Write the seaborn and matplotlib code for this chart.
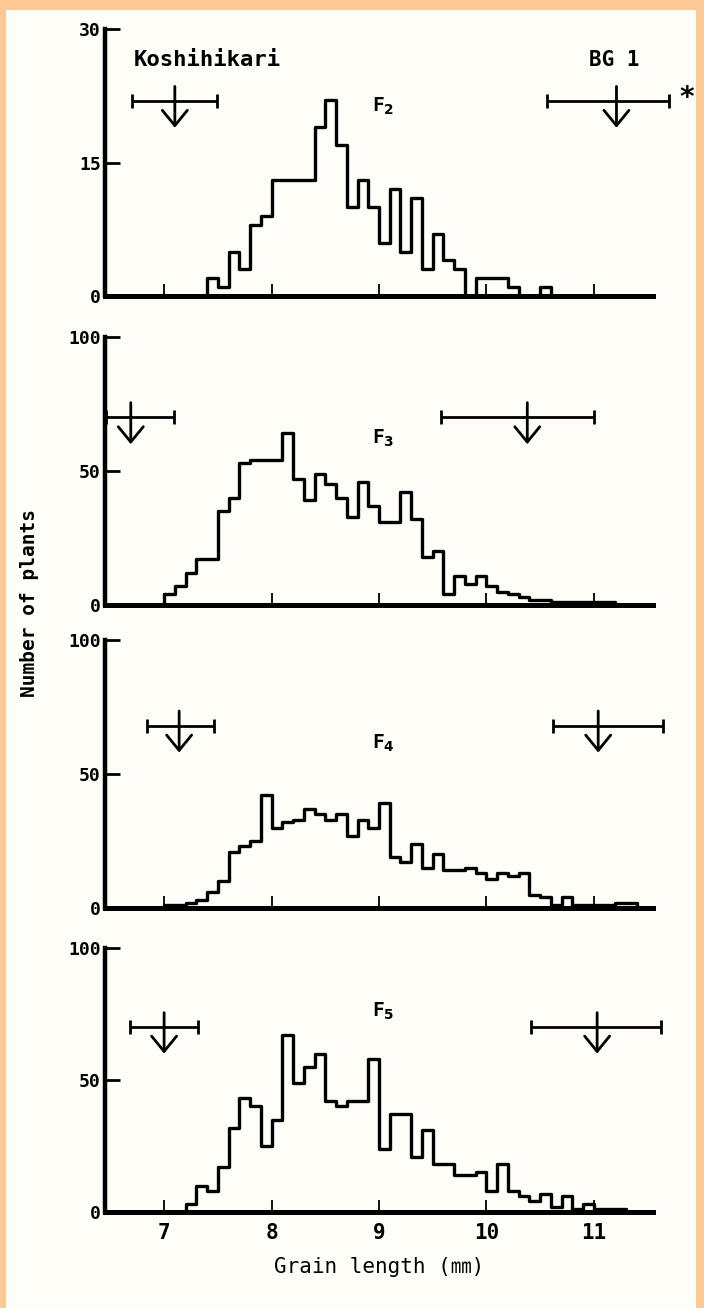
import numpy as np
import pandas as pd
import matplotlib
matplotlib.use("Agg")
import matplotlib.pyplot as plt
from matplotlib.patches import Rectangle
import seaborn as sns

# grain length classes are 0.1 mm wide
BIN = 0.1

# number of plants per class, first class starts at *_start (mm)
f2_start = 7.4
f2_counts = [2, 1, 5, 3, 8, 9, 13, 13, 13, 13, 19, 22, 17, 10, 13, 10,
             6, 12, 5, 11, 3, 7, 4, 3, 0, 2, 2, 2, 1, 0, 0, 1]
f3_start = 7.0
f3_counts = [4, 7, 12, 17, 17, 35, 40, 53, 54, 54, 54, 64, 47, 39, 49, 45,
             40, 33, 46, 37, 31, 31, 42, 32, 18, 20, 4, 11, 8, 11, 7, 5,
             4, 3, 2, 2, 1, 1, 1, 1, 1, 1]
f4_start = 7.0
f4_counts = [1, 1, 2, 3, 6, 10, 21, 23, 25, 42, 30, 32, 33, 37, 35, 33,
             35, 27, 33, 30, 39, 19, 17, 24, 15, 20, 14, 14, 15, 13, 11, 13,
             12, 13, 5, 4, 1, 4, 1, 1, 1, 1, 2, 2]
f5_start = 7.2
f5_counts = [3, 10, 8, 17, 32, 43, 40, 25, 35, 67, 49, 55, 60, 42, 40, 42,
             42, 58, 24, 37, 37, 21, 31, 18, 18, 14, 14, 15, 8, 18, 8, 6,
             4, 7, 2, 6, 1, 3, 1, 1, 1]

generations = ["2", "3", "4", "5"]
starts = [f2_start, f3_start, f4_start, f5_start]
counts = [f2_counts, f3_counts, f4_counts, f5_counts]

# parents: mean and range (mm), Koshihikari left, BG 1 right
kosh_mean = [7.10, 6.69, 7.14, 7.00]
kosh_lo = [6.70, 6.46, 6.84, 6.68]
kosh_hi = [7.49, 7.09, 7.46, 7.32]
bg1_mean = [11.21, 10.38, 11.04, 11.03]
bg1_lo = [10.56, 9.58, 10.62, 10.41]
bg1_hi = [11.70, 11.00, 11.64, 11.62]

y_max = [30, 100, 100, 100]
y_ticks = [[0, 15, 30], [0, 50, 100], [0, 50, 100], [0, 50, 100]]
x_ticks = [7, 8, 9, 10, 11]

# long table, one row per class, padded with an empty class on each side
rows = []
for g, s, c in zip(generations, starts, counts):
    c = [0] + list(c) + [0]
    for i, n in enumerate(c):
        rows.append({"gen": g, "length": round(s - BIN + i * BIN + BIN / 2, 3), "n": n})
df = pd.DataFrame(rows)

sns.set_style("ticks")
plt.rcParams["font.family"] = ["DejaVu Sans Mono", "Noto Sans CJK JP"]
plt.rcParams["font.weight"] = "bold"
plt.rcParams["mathtext.fontset"] = "dejavusans"
for key in ["text.color", "axes.labelcolor", "xtick.color", "ytick.color", "axes.edgecolor"]:
    plt.rcParams[key] = "black"

W, H = 704, 1308
fig = plt.figure(figsize=(W / 100, H / 100), dpi=100)
fig.patch.set_facecolor("#fcc893")
fig.add_artist(Rectangle((6 / W, 0), (W - 14) / W, (H - 10) / H,
                         transform=fig.transFigure, facecolor="#fefdf8",
                         edgecolor="none", zorder=0))

# panel boxes in pixels: top, baseline
boxes = [(29, 296), (337, 605), (640, 908), (948, 1212)]
left_px, right_px = 105, 653
bar_y = [0.73, 0.70, 0.68, 0.70]
label_y = [0.71, 0.62, 0.615, 0.76]

axes = []
for k, g in enumerate(generations):
    top, base = boxes[k]
    ax = fig.add_axes([left_px / W, 1 - base / H, (right_px - left_px) / W, (base - top) / H])
    ax.set_facecolor("none")
    sub = df[df["gen"] == g]
    edges = [round(starts[k] - BIN + i * BIN, 3) for i in range(len(sub) + 1)]
    sns.histplot(data=sub, x="length", weights="n", bins=edges, element="step",
                 fill=False, color="black", linewidth=2.4, ax=ax)
    ax.set_xlim(6.45, 11.55)
    ax.set_ylim(0, y_max[k])
    ax.set_xlabel("")
    ax.set_ylabel("")
    sns.despine(ax=ax)
    ax.spines["left"].set_linewidth(3.2)
    ax.spines["bottom"].set_linewidth(3.6)
    ax.set_xticks(x_ticks)
    ax.set_yticks(y_ticks[k])
    ax.tick_params(axis="y", direction="in", length=11, width=2, pad=3, labelsize=13)
    ax.tick_params(axis="x", direction="in", length=9, width=1.3, pad=8, labelsize=15)
    if k < 3:
        ax.tick_params(axis="x", labelbottom=False)

    # parent means with ranges
    for m, lo, hi in [(kosh_mean[k], kosh_lo[k], kosh_hi[k]), (bg1_mean[k], bg1_lo[k], bg1_hi[k])]:
        yb = bar_y[k] * y_max[k]
        ax.errorbar([m], [yb], xerr=[[m - lo], [hi - m]], fmt="none", ecolor="black",
                    elinewidth=2, capsize=5, capthick=2, clip_on=False)
        ax.annotate("", xy=(m, bar_y[k] - 0.10), xytext=(m, bar_y[k] + 0.055),
                    xycoords=("data", "axes fraction"), textcoords=("data", "axes fraction"),
                    arrowprops=dict(arrowstyle="->, head_length=0.55, head_width=0.45",
                                    lw=2, color="black", mutation_scale=20,
                                    shrinkA=0, shrinkB=0))

    ax.text(9.04, label_y[k], "F$_{%s}$" % g, transform=ax.get_xaxis_transform(),
            ha="center", va="center", fontsize=14)
    axes.append(ax)

axes[0].text(7.40, 0.885, "Koshihikari", transform=axes[0].get_xaxis_transform(),
             ha="center", va="center", fontsize=16)
axes[0].text(11.19, 0.885, "BG 1", transform=axes[0].get_xaxis_transform(),
             ha="center", va="center", fontsize=15)
axes[0].text(11.86, 0.74, "*", transform=axes[0].get_xaxis_transform(),
             ha="center", va="center", fontsize=20, clip_on=False)

axes[3].set_xlabel("Grain length (㎜)", fontsize=15, labelpad=10)
fig.text(30 / W, 1 - 603 / H, "Number of plants", rotation=90, ha="center",
         va="center", fontsize=14)

fig.savefig("out.png", dpi=100, facecolor=fig.get_facecolor())
